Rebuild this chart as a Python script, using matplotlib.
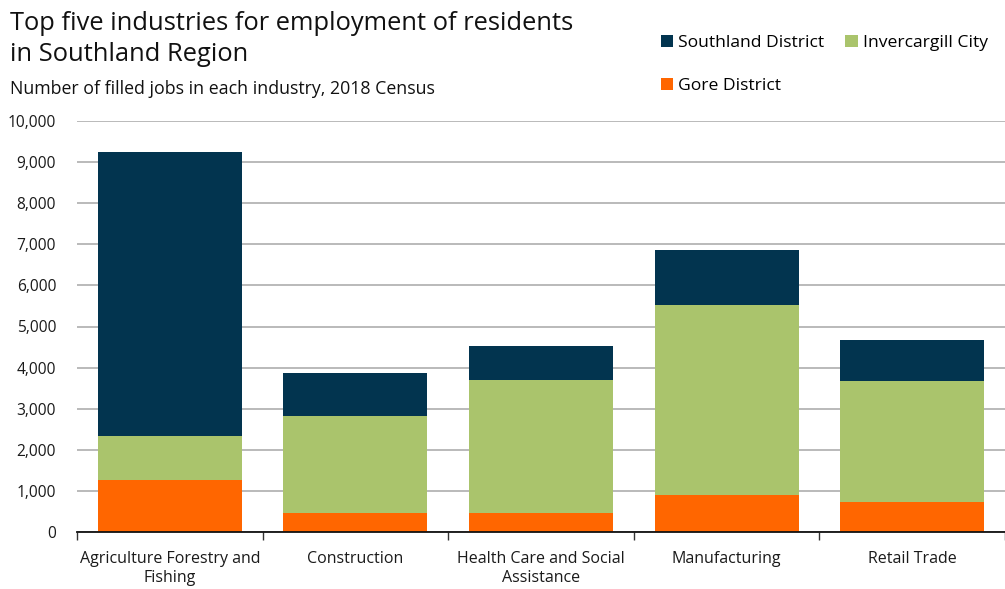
import numpy as np
import matplotlib.pyplot as plt
from matplotlib.ticker import FuncFormatter, FixedLocator

plt.rcParams['font.family'] = ['Open Sans', 'DejaVu Sans']

# filled jobs per industry, 2018 Census
industries = ['Agriculture Forestry and\nFishing', 'Construction',
              'Health Care and Social\nAssistance', 'Manufacturing', 'Retail Trade']
gore = [1272, 452, 452, 890, 720]
invercargill = [1052, 2368, 3251, 4629, 2942]
southland = [6915, 1060, 819, 1345, 1013]

col_sd = '#02344f'
col_inv = '#aac46c'
col_gore = '#ff6600'

fig = plt.figure(figsize=(10.05, 5.89), dpi=100)
ax = fig.add_axes([77/1005, 1 - 532/589, (1005 - 77)/1005, (532 - 121)/589])

x = np.arange(len(industries))
w = 0.775
b_gore = ax.bar(x, gore, w, color=col_gore, label='Gore District')
b_inv = ax.bar(x, invercargill, w, bottom=gore, color=col_inv, label='Invercargill City')
bottom2 = np.array(gore) + np.array(invercargill)
b_sd = ax.bar(x, southland, w, bottom=bottom2, color=col_sd, label='Southland District')

ax.set_xlim(-0.5, len(industries) - 0.5)
ax.set_ylim(0, 10000)
ax.set_yticks(np.arange(0, 10001, 1000))
ax.yaxis.set_major_formatter(FuncFormatter(lambda v, p: f'{int(v):,}'))
ax.grid(axis='y', color='#b4b4b4', linewidth=1.3)
ax.set_axisbelow(True)

ax.set_xticks(x)
ax.set_xticklabels(industries, fontsize=11.5, color='#1a1a1a')
ax.tick_params(axis='x', which='major', length=0, pad=14)
ax.xaxis.set_minor_locator(FixedLocator(np.arange(-0.5, len(industries), 1.0)))
ax.tick_params(axis='x', which='minor', length=6, width=1, color='#333333')
ax.tick_params(axis='y', length=0, labelsize=11.2, labelcolor='#1a1a1a', pad=15)

for s in ['top', 'right', 'left']:
    ax.spines[s].set_visible(False)
ax.spines['bottom'].set_color('#111111')
ax.spines['bottom'].set_linewidth(1.3)

fig.text(10/1005, 1 - 39/589, 'Top five industries for employment of residents\nin Southland Region',
         fontsize=18.4, va='center', ha='left', linespacing=1.35, color='#111111')
fig.text(10/1005, 1 - 89/589, 'Number of filled jobs in each industry, 2018 Census',
         fontsize=12.8, va='center', ha='left', color='#111111')

fig.legend(handles=[b_sd, b_gore, b_inv], loc='upper left', ncol=2,
           bbox_to_anchor=(652/1005, 1 - 26/589), frameon=False, fontsize=12.6,
           handlelength=0.7, handleheight=0.7, handletextpad=0.3,
           labelspacing=1.55, columnspacing=1.2, borderpad=0)

fig.savefig('out.png', dpi=100)
